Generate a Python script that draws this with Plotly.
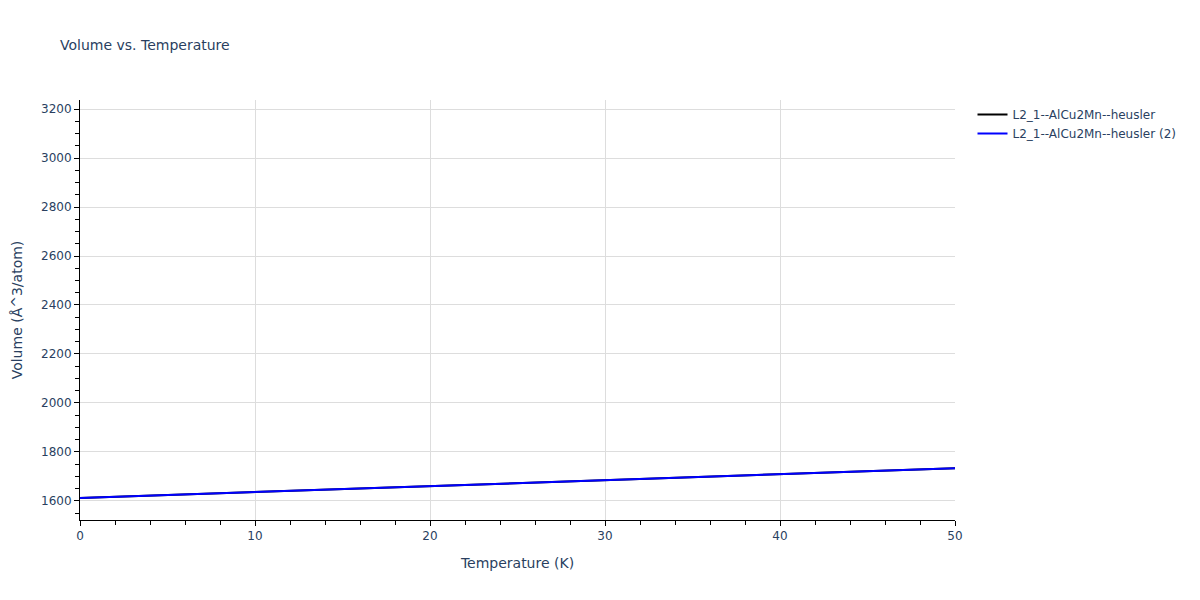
import plotly.graph_objects as go

temperature = [0, 10, 20, 30, 40, 50]
volume_1 = [1612, 1636, 1660, 1684, 1708, 1733]
volume_2 = [1612, 1636, 1660, 1684, 1708, 1733]
names = ["L2_1--AlCu2Mn--heusler", "L2_1--AlCu2Mn--heusler (2)"]

fig = go.Figure()
fig.add_trace(go.Scatter(x=temperature, y=volume_1, mode="lines", name=names[0],
                         line=dict(color="black", width=2)))
fig.add_trace(go.Scatter(x=temperature, y=volume_2, mode="lines", name=names[1],
                         line=dict(color="blue", width=2)))

fig.update_layout(
    template="plotly_white",
    width=1192, height=592,
    font=dict(family="DejaVu Sans, Verdana, sans-serif"),
    title=dict(text="Volume vs. Temperature", x=52 / 1192, xanchor="left",
               y=1 - 37 / 592, yanchor="middle", font=dict(size=14)),
    margin=dict(l=72, r=245, t=92, b=80, autoexpand=False),
    legend=dict(x=1.02, y=1.0, xanchor="left", yanchor="top"),
    xaxis=dict(title=dict(text="Temperature (K)"), range=[0, 50], dtick=10,
               showline=True, linecolor="black", ticks="outside", tickcolor="black",
               gridcolor="#dddddd", zeroline=False, automargin=False,
               minor=dict(dtick=2, ticks="outside", tickcolor="black", ticklen=4, showgrid=False)),
    yaxis=dict(title=dict(text="Volume (Å^3/atom)"), range=[1522, 3237], dtick=200,
               showline=True, linecolor="black", ticks="outside", tickcolor="black",
               gridcolor="#dddddd", zeroline=False, automargin=False,
               minor=dict(dtick=50, ticks="outside", tickcolor="black", ticklen=4, showgrid=False)),
)

fig.write_html("out.html")
